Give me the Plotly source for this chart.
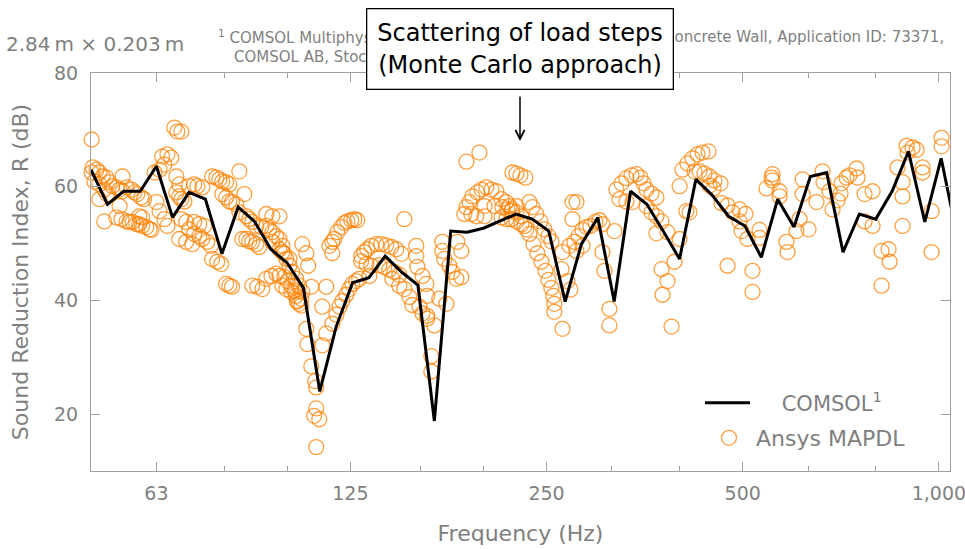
import math
import plotly.graph_objects as go

# ---------------- data ----------------
comsol_freq = [50.0, 53.0, 56.1, 59.5, 63.0, 66.7, 70.7, 74.9, 79.4, 84.1, 89.1, 94.4,
               100.0, 105.9, 112.2, 118.9, 126.0, 133.5, 141.4, 149.8, 158.7, 168.2, 178.2, 188.8,
               200.0, 211.9, 224.5, 237.8, 252.0, 267.0, 282.8, 299.7, 317.5, 336.4, 356.4, 377.5,
               400.0, 423.8, 449.0, 475.7, 504.0, 534.0, 565.7, 599.3, 635.0, 672.7, 712.7, 755.1,
               800.0, 847.6, 898.0, 951.4, 1008.0, 1068.0]
comsol_db = [63.0, 56.9, 59.2, 59.2, 63.6, 54.6, 59.0, 57.8, 48.2, 56.4, 53.9, 49.0,
             46.6, 42.2, 24.0, 35.4, 43.1, 44.0, 47.8, 45.0, 42.7, 18.8, 52.2, 52.0,
             52.7, 53.9, 55.2, 54.3, 52.2, 39.8, 49.9, 54.6, 39.8, 59.2, 56.9, 52.2,
             47.3, 61.3, 58.5, 54.8, 53.1, 47.6, 57.8, 52.9, 61.8, 62.5, 48.5, 55.2,
             54.3, 59.2, 66.2, 53.8, 65.0, 51.0]

ansys_freq = [
    # 50 - 63 Hz
    50.1, 50.1, 50.3, 51.0, 51.5, 52.1, 52.8, 50.6, 51.5, 52.4, 51.5, 52.9, 53.3, 53.9, 54.7, 55.3,
    55.9, 55.9, 56.7, 57.7, 58.3, 58.9, 59.7, 60.3, 52.4, 54.7, 55.7, 56.7, 57.3, 57.9, 58.7, 59.3,
    59.9, 60.8, 61.5, 61.9, 55.3, 59.3, 59.9, 62.6, 63.7,
    # 63 - 84 Hz
    64.3, 65.5, 66.4, 64.8, 67.1, 67.85, 68.8, 67.6, 68.3, 67.6, 68.3, 68.8, 69.55, 63.0, 63.7, 64.8,
    65.5, 68.8, 70.0, 70.7, 72.0, 73.3, 74.1, 75.4, 76.4, 70.7, 72.0, 72.8, 74.1, 72.0, 73.3, 74.6,
    76.7, 77.85, 78.7, 79.5, 80.6, 81.5, 76.7, 78.1, 79.2, 80.6, 81.5, 82.3, 68.3, 70.0, 71.5, 79.5,
    80.6, 81.5, 82.3, 83.5,
    # 84 - 106 Hz
    84.45, 85.95, 84.45, 86.55, 87.45, 88.4, 89.65, 91.3, 92.9, 94.9, 85.35, 86.55, 87.45, 88.4,
    89.65, 90.6, 92.9, 93.9, 94.9, 96.2, 97.3, 98.3, 94.9, 97.3, 99.0, 100.8, 88.4, 90.0, 91.6, 92.9,
    94.6, 96.2, 97.3, 99.0, 100.1, 101.5, 102.6, 103.2, 103.6, 104.3, 105.1, 97.3, 98.3, 99.7, 100.8,
    101.8, 103.2, 104.3, 105.5, 98.3, 99.7, 101.5, 103.6, 105.1,
    # 105 - 130 Hz
    105.5, 107.0, 107.7, 108.9, 114.8, 113.2, 107.0, 107.4, 108.9, 110.4, 110.8, 110.8, 110.0, 112.0,
    110.8, 113.2, 114.8, 117.3, 119.0, 120.3, 121.5, 123.2, 124.5, 125.9, 127.6, 129.0, 116.1, 117.3,
    118.1, 119.4, 121.1, 122.4, 123.7, 125.4, 126.8, 128.1, 117.3,
    # 130 - 170 Hz
    129.9, 131.3, 132.7, 134.6, 137.0, 139.4, 141.9, 144.5, 147.0, 149.7, 129.9, 132.3, 134.6, 138.5,
    140.9, 143.4, 146.0, 148.6, 133.7, 145.0, 148.6, 151.3, 154.0, 155.6, 159.6, 161.3, 164.0, 168.2,
    151.3, 157.8, 157.8, 158.4, 161.3, 163.5, 164.0, 166.4, 166.4, 164.0,
    # 170 - 235 Hz
    171.2, 175.5, 173.0, 173.0, 174.2, 177.4, 179.2, 181.8, 185.0, 182.4, 185.0, 188.4, 197.2, 187.0,
    188.4, 190.4, 192.4, 195.8, 198.7, 202.1, 205.8, 209.4, 213.2, 216.9, 219.2, 221.6, 224.8, 224.8,
    228.8, 191.7, 195.1, 200.8, 200.8, 208.0, 213.9, 217.7, 220.8, 213.2, 216.9, 220.8, 224.8, 228.8,
    232.8, 221.6, 224.8, 228.0, 232.0,
    # 230 - 320 Hz
    235.3, 237.8, 241.2, 244.7, 248.1, 251.7, 254.3, 231.2, 235.3, 238.7, 242.1, 245.5, 249.0, 251.7,
    254.3, 256.1, 257.0, 257.0, 264.5, 264.5, 271.1, 263.6, 269.1, 272.0, 274.0, 277.9, 274.0, 275.9,
    279.9, 283.9, 287.8, 292.0, 297.2, 301.4, 304.6, 277.9, 283.9, 304.6, 306.8, 312.2, 312.2, 317.8,
    # 320 - 465 Hz
    320.0, 325.8, 331.5, 337.5, 343.5, 348.5, 352.2, 355.8, 362.2, 368.6, 323.5, 331.5, 338.7, 355.8,
    362.2, 368.6, 368.6, 375.3, 375.3, 383.3, 376.6, 388.8, 392.9, 400.0, 409.7, 400.0, 383.3, 404.2,
    411.3, 418.7, 426.2, 433.8, 443.0, 421.7, 429.2, 436.8, 444.6, 452.5, 462.3, 444.6, 451.0, 414.3,
    # 460 - 615 Hz
    463.9, 473.9, 482.3, 494.4, 504.9, 494.4, 497.9, 508.5, 530.6, 530.6, 473.9, 517.6, 517.6, 543.8,
    553.6, 555.5, 555.5, 569.5, 569.5, 583.6, 585.7, 611.1, 604.7,
    # 615 - 1010 Hz
    617.7, 617.7, 630.9, 648.9, 662.9, 665.2, 679.6, 686.8, 699.0, 706.4, 709.0, 721.5, 729.3, 747.5,
    750.2, 769.0, 769.0, 791.1, 791.1, 816.6, 837.1, 840.1, 816.6, 864.2, 879.6, 879.6, 879.6, 892.0,
    911.2, 895.2, 924.0, 944.0, 944.0, 974.5, 974.5, 1009.6, 1009.6,
]
ansys_db = [
    # 50 - 63 Hz
    68.3, 62.5, 63.4, 63.0, 62.5, 61.8, 61.6, 60.9, 60.4, 59.5, 57.8, 58.7, 60.8, 60.1, 59.9, 59.5,
    59.2, 61.8, 59.9, 59.5, 59.0, 58.7, 58.1, 57.8, 53.9, 54.6, 54.3, 53.9, 53.8, 53.8, 53.4, 53.4,
    53.1, 52.9, 52.5, 52.4, 56.6, 54.8, 54.6, 62.5, 63.0,
    # 63 - 84 Hz
    65.3, 65.7, 65.1, 63.9, 70.4, 69.7, 69.7, 61.8, 60.4, 59.0, 58.3, 57.8, 57.4, 57.3, 55.7, 54.3,
    53.1, 54.3, 53.8, 52.5, 51.7, 51.3, 50.8, 50.3, 49.6, 60.1, 60.4, 60.1, 59.9, 53.8, 53.4, 53.1,
    61.8, 61.6, 61.3, 60.9, 60.8, 60.4, 47.3, 46.8, 46.4, 42.9, 42.6, 42.4, 50.8, 50.3, 49.9, 58.7,
    58.1, 57.4, 57.3, 56.9,
    # 84 - 106 Hz
    62.7, 58.7, 55.5, 54.8, 54.3, 53.8, 53.1, 52.9, 55.2, 54.8, 50.8, 50.8, 50.4, 50.3,
    49.9, 49.4, 53.1, 52.5, 52.0, 51.3, 50.8, 49.6, 50.3, 49.0, 48.2, 47.3, 42.6, 42.4, 42.0, 43.8,
    44.3, 44.7, 44.3, 44.1, 43.4, 42.6, 41.7, 40.8, 39.9, 39.4, 40.3, 54.8, 48.5, 47.3, 46.1,
    45.0, 43.8, 42.6, 41.5, 42.6, 42.0, 41.5, 39.8, 39.1,
    # 105 - 130 Hz
    49.9, 48.3, 46.1, 42.4, 42.4, 38.9, 35.0, 32.3, 28.4, 25.8, 24.7, 21.0, 19.7, 19.1,
    14.2, 32.1, 34.2, 35.9, 37.5, 38.9, 39.9, 41.0, 42.0, 42.9, 43.4, 43.8, 49.6, 50.3,
    50.8, 52.0, 52.9, 53.6, 53.9, 54.1, 54.3, 54.1, 48.3,
    # 130 - 170 Hz
    47.8, 48.5, 49.0, 49.6, 49.9, 49.9, 49.7, 49.4, 49.0, 48.2, 46.9, 46.4, 46.1, 46.2,
    45.9, 45.4, 45.0, 44.5, 44.3, 43.8, 42.6, 42.0, 40.6, 39.2, 38.9, 37.7, 36.8, 35.6,
    54.3, 49.6, 47.8, 45.9, 44.3, 42.9, 40.8, 30.2, 27.5, 37.3,
    # 170 - 235 Hz
    40.3, 39.4, 50.3, 48.7, 47.3, 46.1, 45.0, 43.8, 44.1, 50.3, 48.7, 64.4, 66.0, 55.2,
    56.4, 57.3, 58.3, 59.0, 59.5, 59.9, 59.5, 59.2, 57.8, 57.3, 56.6, 56.0, 56.6, 55.5,
    54.8, 55.2, 54.8, 54.8, 56.6, 56.6, 56.4, 56.0, 55.7, 54.6, 54.3, 54.3, 53.9, 53.4,
    52.5, 62.5, 62.3, 62.0, 61.6,
    # 230 - 320 Hz
    57.3, 56.4, 55.2, 53.9, 52.5, 51.3, 50.4, 53.1, 51.7, 49.9, 48.3, 46.8, 45.2, 43.6,
    42.2, 40.8, 39.4, 38.0, 35.0, 48.5, 49.6, 45.5, 43.4, 41.9, 57.3, 57.3, 54.3, 50.3,
    51.3, 52.4, 52.9, 53.1, 53.8, 54.1, 53.4, 48.7, 49.6, 48.5, 45.2, 38.5, 35.6, 52.2,
    # 320 - 465 Hz
    59.5, 60.6, 61.5, 62.0, 62.2, 61.6, 60.6, 59.5, 58.8, 58.1, 57.8, 57.4, 57.3, 56.6,
    55.5, 54.8, 51.8, 53.9, 45.5, 43.4, 41.0, 35.4, 46.8, 60.1, 55.7, 50.8, 52.0, 63.0,
    64.1, 65.0, 65.7, 66.0, 66.2, 62.7, 62.7, 62.3, 61.8, 61.1, 60.6, 60.2, 59.7, 55.5,
    # 460 - 615 Hz
    57.1, 56.7, 55.5, 56.0, 55.2, 53.9, 52.2, 50.8, 52.4, 51.0, 46.1, 45.2, 41.5, 59.7,
    61.6, 62.2, 61.1, 59.2, 58.3, 50.3, 48.5, 54.3, 52.2,
    # 615 - 1010 Hz
    61.3, 58.7, 52.5, 57.3, 62.7, 60.8, 59.2, 56.0, 57.6, 58.8, 60.6, 61.6, 62.0, 63.2,
    61.6, 58.7, 53.9, 59.2, 53.1, 48.7, 49.0, 46.8, 42.6, 63.4, 60.8, 58.3, 53.1, 67.2,
    66.9, 66.0, 66.5, 63.4, 62.5, 55.7, 48.5, 68.6, 67.1,
]

x_major_vals = [63, 125, 250, 500, 1000]
x_major_text = ["63", "125", "250", "500", "1,000"]
x_minor_vals = [80, 100, 160, 200, 315, 400, 630, 800]
y_tick_vals = [20, 40, 60, 80]
x_range_hz = [50, 1040]
y_range_db = [10, 80]

# ---------------- style ----------------
FONT = "DejaVu Sans"
GREY = "#7f7f7f"
FRAME = "#a0a0a0"
ORANGE = "rgba(255,128,0,0.75)"

W, H = 965, 549
ML, MR, MT, MB = 91, 15, 73, 78
PW, PH = W - ML - MR, H - MT - MB


def px(xp):
    return (xp - ML) / PW


def py(yp):
    return (H - MB - yp) / PH


fig = go.Figure()
fig.add_trace(go.Scatter(
    x=ansys_freq, y=ansys_db, mode="markers", name="\u00a0Ansys MAPDL",
    marker=dict(symbol="circle-open", size=15, color=ORANGE, line=dict(width=1.3)),
    cliponaxis=False, legend="legend2",
))
fig.add_trace(go.Scatter(
    x=comsol_freq, y=comsol_db, mode="lines", name="\u00a0\u00a0\u00a0\u00a0COMSOL<sup>1</sup>",
    line=dict(color="black", width=3), legend="legend",
))

axis_common = dict(
    showline=True, linecolor=FRAME, linewidth=1, mirror="ticks",
    ticks="inside", ticklen=9, tickwidth=1.3, tickcolor=FRAME,
    showgrid=False, zeroline=False,
    tickfont=dict(family=FONT, size=19, color=GREY),
)

fig.update_layout(
    width=W, height=H,
    margin=dict(l=ML, r=MR, t=MT, b=MB, autoexpand=False),
    paper_bgcolor="white", plot_bgcolor="white",
    font=dict(family=FONT, color=GREY),
    xaxis=dict(
        type="log", range=[math.log10(x_range_hz[0]), math.log10(x_range_hz[1])],
        tickmode="array", tickvals=x_major_vals, ticktext=x_major_text,
        minor=dict(tickmode="array", tickvals=x_minor_vals, ticks="inside", ticklen=5,
                   tickwidth=1.3, tickcolor=FRAME, showgrid=False),
        ticklabelstandoff=5, ticklabeloverflow="allow",
        title=dict(text="Frequency (Hz)", font=dict(family=FONT, size=22, color=GREY), standoff=22),
        **axis_common,
    ),
    yaxis=dict(
        range=y_range_db, tickmode="array", tickvals=y_tick_vals,
        ticklabelstandoff=8, ticklabeloverflow="allow",
        title=dict(text="Sound Reduction Index, R (dB)", font=dict(family=FONT, size=22, color=GREY),
                   standoff=19),
        **axis_common,
    ),
    legend=dict(
        x=px(700), y=py(403), xanchor="left", yanchor="middle",
        bgcolor="rgba(0,0,0,0)", borderwidth=0, itemwidth=45,
        font=dict(family=FONT, size=21, color=GREY),
    ),
    legend2=dict(
        x=px(709), y=py(438), xanchor="left", yanchor="middle",
        bgcolor="rgba(0,0,0,0)", borderwidth=0,
        font=dict(family=FONT, size=22, color=GREY),
    ),
    showlegend=True,
)

annotations = [
    dict(text="2.84\u2009m \u00d7 0.203\u2009m", x=px(4), y=py(44), xref="paper", yref="paper",
         xanchor="left", yanchor="middle", showarrow=False,
         font=dict(family=FONT, size=20, color=GREY)),
    dict(text="<sup>1</sup> COMSOL Multiphysics, Sound Transmission Loss through a",
         x=px(216), y=py(37), xref="paper", yref="paper", xanchor="left", yanchor="middle",
         showarrow=False, font=dict(family=FONT, size=15, color=GREY)),
    dict(text="Concrete Wall, Application ID: 73371,",
         x=px(946), y=py(37), xref="paper", yref="paper", xanchor="right", yanchor="middle",
         showarrow=False, font=dict(family=FONT, size=15, color=GREY)),
    dict(text="COMSOL AB, Stockholm, Sweden.",
         x=px(232), y=py(57), xref="paper", yref="paper", xanchor="left", yanchor="middle",
         showarrow=False, font=dict(family=FONT, size=15, color=GREY)),
    dict(text="Scattering of load steps<br>(Monte Carlo approach)",
         x=px(520), y=py(49), xref="paper", yref="paper", xanchor="center", yanchor="middle",
         showarrow=False, bgcolor="white", bordercolor="black", borderwidth=1.3, borderpad=10,
         font=dict(family=FONT, size=24, color="black")),
    dict(text="", x=px(520), y=py(141), xref="paper", yref="paper",
         showarrow=True, ax=0, ay=-46, arrowhead=5, arrowsize=1.2, arrowwidth=1.5,
         arrowcolor="black"),
]
fig.update_layout(annotations=annotations)

fig.write_html("out.html")
